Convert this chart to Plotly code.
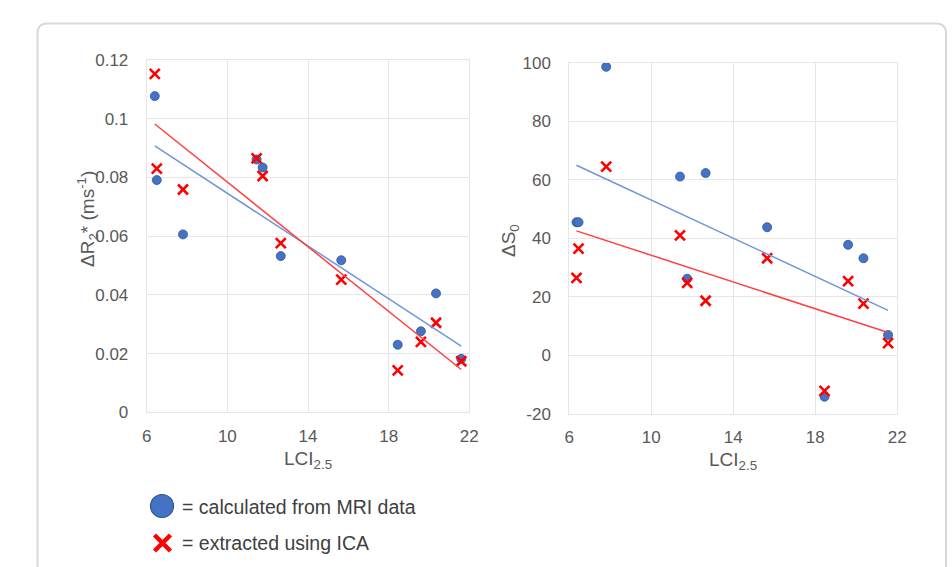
import numpy as np
import plotly.graph_objects as go

# ---------------- data ----------------
lci_mri = [6.4, 6.5, 7.8, 11.45, 11.75, 12.65, 15.65, 18.45, 19.6, 20.35, 21.6]
r2_mri = [0.1077, 0.0791, 0.0606, 0.0861, 0.0834, 0.0532, 0.0518, 0.0230, 0.0276, 0.0405, 0.0182]
r2_ica = [0.1153, 0.0830, 0.0759, 0.0865, 0.0805, 0.0576, 0.0452, 0.0143, 0.0240, 0.0305, 0.0174]

lci_s0 = [6.35, 6.45, 7.8, 11.4, 11.75, 12.65, 15.65, 18.45, 19.6, 20.35, 21.55]
s0_mri = [45.5, 45.5, 98.6, 61.1, 26.2, 62.3, 43.8, -14.1, 37.8, 33.2, 7.0]
s0_ica = [26.5, 36.5, 64.5, 41.0, 24.8, 18.7, 33.2, -12.1, 25.4, 17.7, 4.2]

x_ticks = [6, 10, 14, 18, 22]
r2_ticks = [0, 0.02, 0.04, 0.06, 0.08, 0.1, 0.12]
r2_tick_text = ["0", "0.02", "0.04", "0.06", "0.08", "0.1", "0.12"]
s0_ticks = [-20, 0, 20, 40, 60, 80, 100]
s0_tick_text = ["-20", "0", "20", "40", "60", "80", "100"]

legend_labels = ["= calculated from MRI data", "= extracted using ICA"]

# ---------------- style ----------------
W, H = 952, 567
BLUE = "#4472C4"
BLUE_EDGE = "#2F5597"
BLUE_LINE = "#7096DA"
RED = "#FF0000"
RED_LINE = "#FF4040"
GRID = "#E6E6E6"
TXT = "#595959"
FONT = "Liberation Sans, Arial, sans-serif"


def px(x):
    return x / W


def py(y):
    return 1 - y / H


def fit_line(xs, ys):
    m, b = np.polyfit(xs, ys, 1)
    xx = np.array([min(xs), max(xs)])
    return xx, m * xx + b


fig = go.Figure()

# left panel
fig.add_trace(go.Scatter(x=lci_mri, y=r2_mri, mode="markers", xaxis="x", yaxis="y",
                         marker=dict(symbol="circle", size=9, color=BLUE,
                                     line=dict(color=BLUE_EDGE, width=0.8)),
                         showlegend=False))
fig.add_trace(go.Scatter(x=lci_mri, y=r2_ica, mode="markers", xaxis="x", yaxis="y",
                         marker=dict(symbol="x-thin", size=10,
                                     line=dict(color=RED, width=2.6)),
                         showlegend=False))
lx, ly = fit_line(lci_mri, r2_mri)
fig.add_trace(go.Scatter(x=lx, y=ly, mode="lines", xaxis="x", yaxis="y",
                         line=dict(color=BLUE_LINE, width=1.5), showlegend=False))
lx, ly = fit_line(lci_mri, r2_ica)
fig.add_trace(go.Scatter(x=lx, y=ly, mode="lines", xaxis="x", yaxis="y",
                         line=dict(color=RED_LINE, width=1.5), showlegend=False))

# right panel
fig.add_trace(go.Scatter(x=lci_s0, y=s0_mri, mode="markers", xaxis="x2", yaxis="y2",
                         marker=dict(symbol="circle", size=9, color=BLUE,
                                     line=dict(color=BLUE_EDGE, width=0.8)),
                         showlegend=False))
fig.add_trace(go.Scatter(x=lci_s0, y=s0_ica, mode="markers", xaxis="x2", yaxis="y2",
                         marker=dict(symbol="x-thin", size=10,
                                     line=dict(color=RED, width=2.6)),
                         showlegend=False))
lx, ly = fit_line(lci_s0, s0_mri)
fig.add_trace(go.Scatter(x=lx, y=ly, mode="lines", xaxis="x2", yaxis="y2",
                         line=dict(color=BLUE_LINE, width=1.5), showlegend=False))
lx, ly = fit_line(lci_s0, s0_ica)
fig.add_trace(go.Scatter(x=lx, y=ly, mode="lines", xaxis="x2", yaxis="y2",
                         line=dict(color=RED_LINE, width=1.5), showlegend=False))

axis_common = dict(showgrid=True, gridcolor=GRID, gridwidth=1, zeroline=False,
                   showline=True, linecolor=GRID, linewidth=1, mirror=True,
                   ticks="", tickfont=dict(family=FONT, size=17, color=TXT),
                   automargin=False)

xa = dict(axis_common, range=[6, 22], tickvals=x_ticks, ticklabelstandoff=8)

fig.update_layout(
    width=W, height=H,
    margin=dict(l=0, r=0, t=0, b=0),
    paper_bgcolor="white", plot_bgcolor="white",
    showlegend=False,
    xaxis=dict(xa, domain=[px(146.7), px(469.3)], anchor="y"),
    yaxis=dict(axis_common, domain=[py(412.3), py(60)], anchor="x",
               range=[0, 0.12], tickvals=r2_ticks, ticktext=r2_tick_text,
               ticklabelstandoff=14),
    xaxis2=dict(xa, domain=[px(569.3), px(897.3)], anchor="y2"),
    yaxis2=dict(axis_common, domain=[py(414), py(62.7)], anchor="x2",
                range=[-20, 100], tickvals=s0_ticks, ticktext=s0_tick_text,
                ticklabelstandoff=14),
)

# axis titles
title_font = dict(family=FONT, size=19, color=TXT)
legend_font = dict(family=FONT, size=19.5, color="#404040")
ann = [
    dict(text="LCI<sub>2.5</sub>", x=px(308), y=py(460), xref="paper", yref="paper",
         showarrow=False, font=title_font, xanchor="center", yanchor="middle"),
    dict(text="LCI<sub>2.5</sub>", x=px(733), y=py(461), xref="paper", yref="paper",
         showarrow=False, font=title_font, xanchor="center", yanchor="middle"),
    dict(text="ΔR<sub>2</sub>* (ms<sup>-1</sup>)", x=px(87), y=py(219), xref="paper",
         yref="paper", showarrow=False, font=title_font, textangle=-90,
         xanchor="center", yanchor="middle"),
    dict(text="ΔS<sub>0</sub>", x=px(510), y=py(241), xref="paper", yref="paper",
         showarrow=False, font=title_font, textangle=-90,
         xanchor="center", yanchor="middle"),
    dict(text=legend_labels[0], x=px(180), y=py(507), xref="paper", yref="paper",
         showarrow=False, font=legend_font, xanchor="left", yanchor="middle"),
    dict(text=legend_labels[1], x=px(180), y=py(543), xref="paper", yref="paper",
         showarrow=False, font=legend_font, xanchor="left", yanchor="middle"),
]
fig.update_layout(annotations=ann)

# card border (rounded rectangle running off the bottom)
L, T, R, rad = 37.5, 23.5, 946.0, 10
card_path = (
    f"M {px(L)},{py(H + 20)} L {px(L)},{py(T + rad)} "
    f"Q {px(L)},{py(T)} {px(L + rad)},{py(T)} "
    f"L {px(R - rad)},{py(T)} "
    f"Q {px(R)},{py(T)} {px(R)},{py(T + rad)} "
    f"L {px(R)},{py(H + 20)}"
)
shapes = [
    dict(type="path", path=card_path, xref="paper", yref="paper",
         line=dict(color="#D9D9D9", width=2), layer="below"),
    # legend symbols
    dict(type="circle", xref="paper", yref="paper", xsizemode="pixel", ysizemode="pixel",
         xanchor=px(162), yanchor=py(506), x0=-11.5, x1=11.5, y0=-11.5, y1=11.5,
         fillcolor=BLUE, line=dict(color=BLUE_EDGE, width=1.2)),
    dict(type="path", xref="paper", yref="paper", xsizemode="pixel", ysizemode="pixel",
         xanchor=px(162.5), yanchor=py(543),
         path="M -8,-8 L 8,8 M -8,8 L 8,-8",
         line=dict(color=RED, width=4.5)),
]
fig.update_layout(shapes=shapes)

fig.write_html("out.html", config={"displayModeBar": False},
               post_script="document.body.style.margin='0';document.body.style.overflow='hidden';")
